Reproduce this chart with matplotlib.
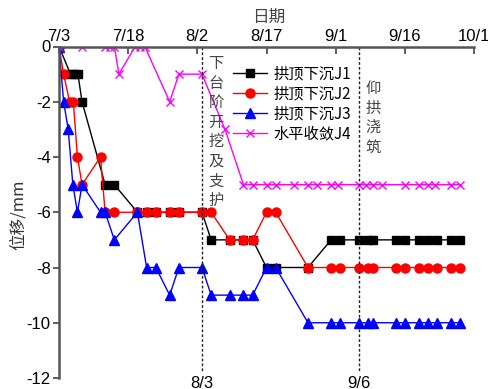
import matplotlib
matplotlib.use("Agg")
import matplotlib.pyplot as plt

plt.rcParams['font.family'] = ['Liberation Sans', 'Noto Sans CJK SC', 'DejaVu Sans']

# Days counted from 7/3
tick_days = [0, 15, 30, 45, 60, 75, 90]
tick_labels = ['7/3', '7/18', '8/2', '8/17', '9/1', '9/16', '10/1']
y_ticks = [0, -2, -4, -6, -8, -10, -12]

days_j1 = [0, 2.5, 3.3, 4.1, 5, 10, 12, 17, 19, 21, 24, 26, 31, 33, 37, 40, 42, 45, 47, 54,
           59, 61, 65, 67, 68, 73, 75, 78, 80, 82, 85, 87]
j1 = [0, -1, -1, -1, -2, -5, -5, -6, -6, -6, -6, -6, -6, -7, -7, -7, -7, -8, -8, -8,
      -7, -7, -7, -7, -7, -7, -7, -7, -7, -7, -7, -7]

days_j2 = [0, 1, 2.3, 3.1, 4, 5, 9, 10, 12, 17, 19, 21, 24, 26, 31, 33, 37, 40, 42, 45, 47, 54,
           59, 61, 65, 67, 68, 73, 75, 78, 80, 82, 85, 87]
j2 = [0, -1, -2, -2, -4, -5, -4, -6, -6, -6, -6, -6, -6, -6, -6, -6, -7, -7, -7, -6, -6, -8,
      -8, -8, -8, -8, -8, -8, -8, -8, -8, -8, -8, -8]

days_j3 = [0, 1, 2, 3, 4, 5, 9, 10, 12, 17, 19, 21, 24, 26, 31, 33, 37, 40, 42, 45, 47, 54,
           59, 61, 65, 67, 68, 73, 75, 78, 80, 82, 85, 87]
j3 = [0, -2, -3, -5, -6, -5, -6, -6, -7, -6, -8, -8, -9, -8, -8, -9, -9, -9, -9, -8, -8, -10,
      -10, -10, -10, -10, -10, -10, -10, -10, -10, -10, -10, -10]

days_j4 = [0, 5, 10, 11, 12, 13, 16.5, 17.5, 18.6, 24, 26, 31, 36, 40, 42, 45, 47, 51, 54, 56,
           59, 60.5, 65, 66.6, 68, 70, 75, 78, 80, 81.5, 85, 87]
j4 = [0, 0, 0, 0, 0, -1, 0, 0, 0, -2, -1, -1, -3, -5, -5, -5, -5, -5, -5, -5,
      -5, -5, -5, -5, -5, -5, -5, -5, -5, -5, -5, -5]

labels = ['拱顶下沉J1', '拱顶下沉J2', '拱顶下沉J3', '水平收敛J4']
event_days = [31, 65]
event_labels = ['8/3', '9/6']
event_texts = ['下台阶开挖及支护', '仰拱浇筑']

W, H = 488, 389
fig = plt.figure(figsize=(W / 100, H / 100), dpi=100)
ax = fig.add_axes([59 / W, 1 - 378 / H, 415 / W, (378 - 46.5) / H])

ax.plot(days_j1, j1, color='black', lw=1, marker='s', ms=5.2, label=labels[0])
ax.plot(days_j2, j2, color='red', lw=1, marker='o', ms=6.5, label=labels[1])
ax.plot(days_j3, j3, color='blue', lw=1, marker='^', ms=6.5, label=labels[2])
ax.plot(days_j4, j4, color='magenta', lw=1, marker='x', ms=6, mew=1, label=labels[3])

for d in event_days:
    ax.plot([d, d], [0, -11.75], color='#222222', lw=1, ls=(0, (2, 1.5)))

ax.set_xlim(0, 90)
ax.set_ylim(-12, 0)
ax.xaxis.tick_top()
ax.set_xticks(tick_days)
ax.set_xticklabels(tick_labels)
ax.set_yticks(y_ticks)
ax.set_yticklabels([str(v) for v in y_ticks])
ax.tick_params(axis='x', direction='in', length=5, width=1.2, labelsize=12, pad=2, color='#444444')
ax.tick_params(axis='y', direction='out', length=4, width=1.2, labelsize=12, pad=2, color='#444444')
for s in ['right', 'bottom']:
    ax.spines[s].set_visible(False)
for s in ['left', 'top']:
    ax.spines[s].set_color('#555555')
    ax.spines[s].set_linewidth(1.8)

cjk = ['Noto Sans CJK SC', 'DejaVu Sans']
fig.text(269 / W, 1 - 17 / H, '日期', ha='center', va='center', fontsize=12,
         color='#444444', family=cjk)
fig.text(18 / W, 1 - 215 / H, '位移/mm', ha='center', va='center', rotation=90,
         fontsize=12, color='#333333', family=cjk)

# Event annotations
fig.text(216 / W, 1 - 55 / H, '\n'.join(event_texts[0]), ha='center', va='top',
         fontsize=11, color='#444444', family=cjk, linespacing=1.2)
fig.text(373 / W, 1 - 80 / H, '\n'.join(event_texts[1]), ha='center', va='top',
         fontsize=11, color='#444444', family=cjk, linespacing=1.2)
for d, lab in zip(event_days, event_labels):
    x = ax.transData.transform((d, 0))[0] / W
    fig.text(x, 1 - 383 / H, lab, ha='center', va='center', fontsize=12)

leg = ax.legend(loc='upper left', bbox_to_anchor=(233 / W, 1 - 65 / H),
                bbox_transform=fig.transFigure, frameon=False,
                handlelength=2.2, handletextpad=0.45, labelspacing=0.2,
                borderpad=0, borderaxespad=0, prop={'family': cjk, 'size': 11})

fig.savefig('out.png', dpi=100)
